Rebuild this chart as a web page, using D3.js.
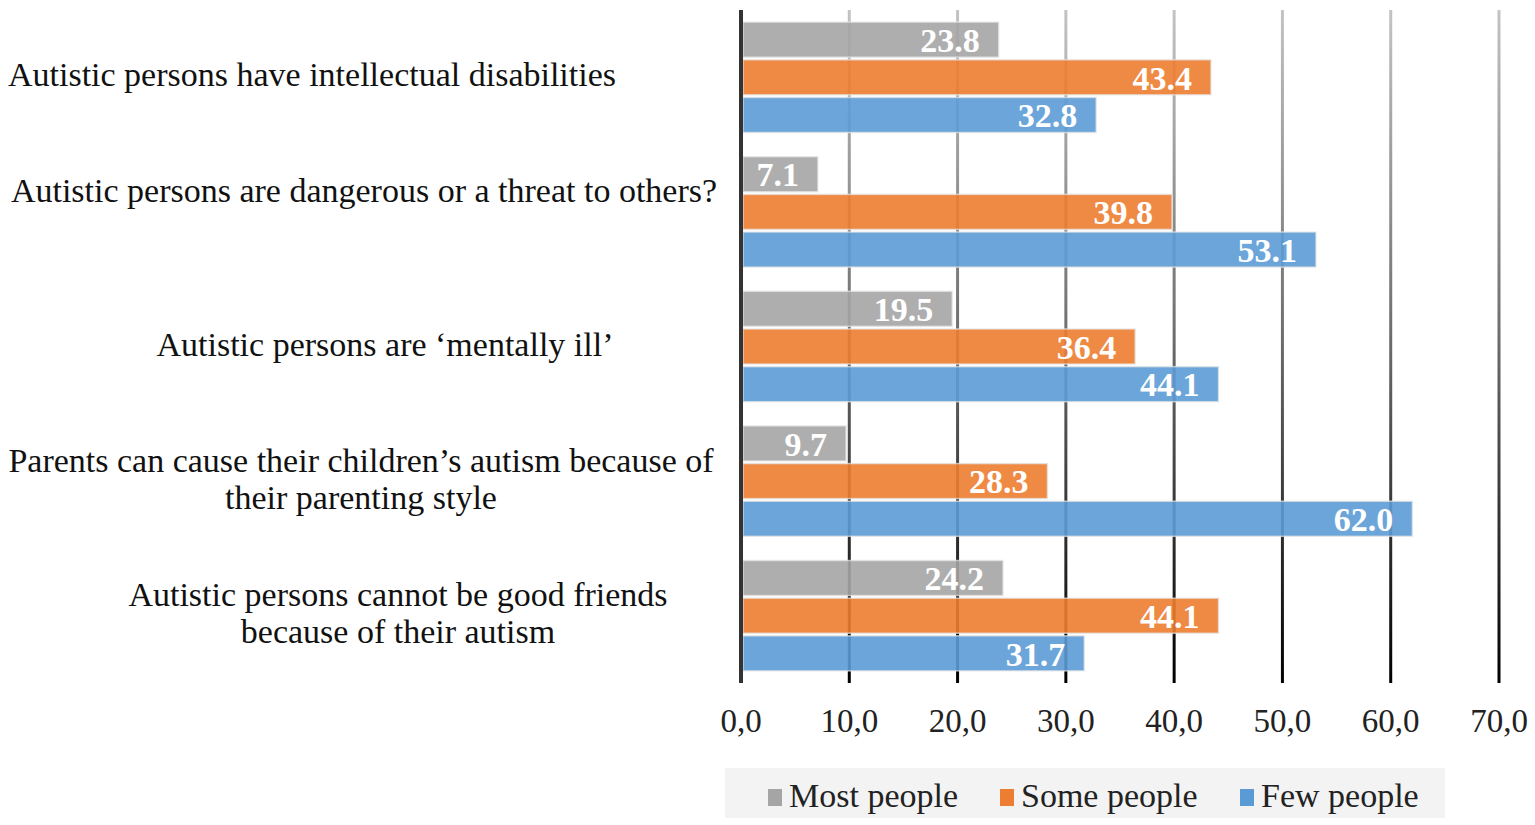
<!DOCTYPE html>
<html>
<head>
<meta charset="utf-8">
<script src="https://cdn.jsdelivr.net/npm/d3@7"></script>
<style>
  body { margin: 0; background: #fff; }
  text { font-family: "Liberation Serif", "Times New Roman", serif; }
</style>
</head>
<body>
<div id="chart"></div>
<script>
// chart data
const categories = [
    "Autistic persons have intellectual disabilities",
    "Autistic persons are dangerous or a threat to others?",
    "Autistic persons are \u2018mentally ill\u2019",
    "Parents can cause their children\u2019s autism because of their parenting style",
    "Autistic persons cannot be good friends because of their autism"
];
// wrapped lines as they appear on the axis
const categoryLines = [
    ["Autistic persons have intellectual disabilities"],
    ["Autistic persons are dangerous or a threat to others?", ""],
    ["Autistic persons are \u2018mentally ill\u2019"],
    ["Parents can cause their children\u2019s autism because of", "their parenting style"],
    ["Autistic persons cannot be good friends", "because of their autism"]
];
const series = ["Most people", "Some people", "Few people"];
const mostPeople = [23.8, 7.1, 19.5, 9.7, 24.2];
const somePeople = [43.4, 39.8, 36.4, 28.3, 44.1];
const fewPeople = [32.8, 53.1, 44.1, 62.0, 31.7];
const xTicks = [0, 10, 20, 30, 40, 50, 60, 70];

// layout
const labelCenterX = [312, 364, 385, 361, 398];
const colors = { "Most people": "#a5a5a5", "Some people": "#ed7d31", "Few people": "#5b9bd5" };

const width = 1535;
const height = 825;
const plotLeft = 741, plotRight = 1499, plotTop = 10, plotBottom = 683;

const values = [mostPeople, somePeople, fewPeople];
const rows = categories.map((c, i) => ({
    category: c,
    bars: series.map((s, j) => ({ series: s, value: values[j][i] }))
}));

const svg = d3.select("#chart")
    .append("svg")
    .attr("width", width)
    .attr("height", height);

const x = d3.scaleLinear().domain([0, 70]).range([plotLeft, plotRight]);
const y = d3.scaleBand().domain(categories).range([plotTop, plotBottom])
    .paddingInner(0.18).paddingOuter(0.09);
const yInner = d3.scaleBand().domain(series).range([0, y.bandwidth()]).paddingInner(0.07);

// gridline gradient: light at top, black at bottom
const defs = svg.append("defs");
const grad = defs.append("linearGradient")
    .attr("id", "gridGrad")
    .attr("gradientUnits", "userSpaceOnUse")
    .attr("x1", 0).attr("y1", plotTop).attr("x2", 0).attr("y2", plotBottom);
grad.append("stop").attr("offset", "0%").attr("stop-color", "#c4c4c4");
grad.append("stop").attr("offset", "50%").attr("stop-color", "#6a6a6a");
grad.append("stop").attr("offset", "100%").attr("stop-color", "#000");

svg.append("g")
    .selectAll("line")
    .data(xTicks.slice(1))
    .join("line")
    .attr("x1", d => x(d)).attr("x2", d => x(d))
    .attr("y1", plotTop).attr("y2", plotBottom)
    .attr("stroke", "url(#gridGrad)")
    .attr("stroke-width", 3);

// bars
const group = svg.append("g")
    .selectAll("g")
    .data(rows)
    .join("g")
    .attr("transform", d => `translate(0,${y(d.category)})`);

group.selectAll("rect")
    .data(d => d.bars)
    .join("rect")
    .attr("x", x(0) + 2)
    .attr("y", d => yInner(d.series))
    .attr("width", d => x(d.value) - x(0) - 2)
    .attr("height", yInner.bandwidth())
    .attr("fill", d => colors[d.series])
    .attr("fill-opacity", 0.9)
    .attr("stroke", "#e6e6e6")
    .attr("stroke-opacity", 0.7)
    .attr("stroke-width", 1.5);

group.selectAll("text.value")
    .data(d => d.bars)
    .join("text")
    .attr("class", "value")
    .attr("x", d => x(d.value) - 19)
    .attr("y", d => yInner(d.series) + yInner.bandwidth() / 2)
    .attr("dy", "0.36em")
    .attr("text-anchor", "end")
    .attr("fill", "#fff")
    .attr("font-weight", "bold")
    .attr("font-size", 34)
    .text(d => d.value.toFixed(1));

// zero axis line
svg.append("line")
    .attr("x1", x(0)).attr("x2", x(0))
    .attr("y1", plotTop).attr("y2", plotBottom)
    .attr("stroke", "#333")
    .attr("stroke-width", 4);

// x tick labels
svg.append("g")
    .selectAll("text")
    .data(xTicks)
    .join("text")
    .attr("x", d => x(d))
    .attr("y", 732)
    .attr("text-anchor", "middle")
    .attr("font-size", 33)
    .attr("fill", "#222")
    .text(d => d.toFixed(1).replace(".", ","));

// category labels
svg.append("g")
    .selectAll("text")
    .data(rows)
    .join("text")
    .attr("text-anchor", "middle")
    .attr("font-size", 34)
    .attr("fill", "#111")
    .each(function (d, i) {
        const lines = categoryLines[i];
        const cy = y(d.category) + y.bandwidth() / 2;
        const first = cy + 9 - (lines.length - 1) * 18.5;
        d3.select(this).selectAll("tspan")
            .data(lines)
            .join("tspan")
            .attr("x", labelCenterX[i])
            .attr("y", (l, k) => first + k * 37)
            .text(l => l);
    });

// legend
const legend = svg.append("g");
legend.append("rect")
    .attr("x", 725).attr("y", 768)
    .attr("width", 720).attr("height", 50)
    .attr("fill", "#f3f3f3");

const legendX = [768, 1000, 1240];
const item = legend.selectAll("g")
    .data(series)
    .join("g")
    .attr("transform", (d, i) => `translate(${legendX[i]},0)`);
item.append("rect")
    .attr("x", 0).attr("y", 789)
    .attr("width", 14).attr("height", 17)
    .attr("fill", d => colors[d]);
item.append("text")
    .attr("x", 21).attr("y", 807)
    .attr("font-size", 34)
    .attr("fill", "#222")
    .text(d => d);
</script>
</body>
</html>
